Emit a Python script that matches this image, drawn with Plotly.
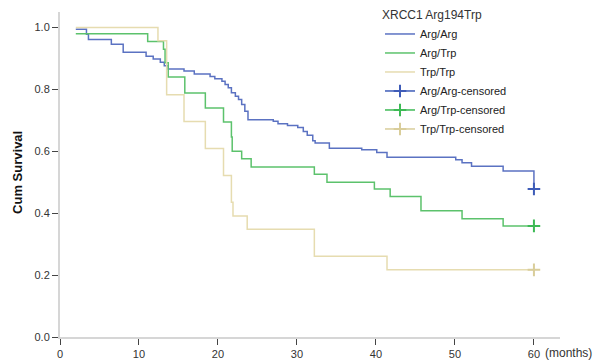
import plotly.graph_objects as go

# ---- data ----
start_time = 2.0
end_time = 60.0

arg_arg_times = [3.35, 3.6, 6.5, 8.0, 10.9, 11.8, 12.7, 13.2, 13.7, 15.7, 17.0, 19.0, 19.6,
                 20.5, 20.9, 21.3, 21.7, 22.2, 22.6, 23.0, 23.4, 23.8, 27.0, 27.6, 28.8,
                 30.1, 30.8, 31.3, 32.0, 32.3, 34.1, 38.2, 40.1, 41.4, 50.1, 50.9, 52.1,
                 56.1, 60.0]
arg_arg_surv = [0.978, 0.961, 0.946, 0.920, 0.907, 0.898, 0.888, 0.876, 0.866, 0.859, 0.850,
                0.842, 0.834, 0.826, 0.816, 0.805, 0.789, 0.778, 0.767, 0.751, 0.729, 0.702,
                0.697, 0.689, 0.683, 0.677, 0.664, 0.652, 0.634, 0.627, 0.610, 0.605, 0.596,
                0.581, 0.573, 0.563, 0.552, 0.536, 0.478]
arg_arg_start = 0.994

arg_trp_times = [11.1, 13.1, 13.3, 13.7, 15.8, 18.4, 20.7, 21.7, 21.8, 23.0, 24.2, 32.2,
                 33.8, 39.8, 41.8, 45.7, 50.9, 56.1]
arg_trp_surv = [0.955, 0.930, 0.886, 0.840, 0.788, 0.740, 0.695, 0.646, 0.600, 0.576, 0.549,
                0.526, 0.500, 0.478, 0.454, 0.408, 0.382, 0.359]
arg_trp_start = 0.980

trp_trp_times = [12.4, 13.5, 15.7, 18.4, 20.7, 21.7, 21.9, 23.7, 32.2, 41.4]
trp_trp_surv = [0.957, 0.783, 0.696, 0.609, 0.522, 0.435, 0.391, 0.348, 0.261, 0.217]
trp_trp_start = 1.0

censor_time = [60.0]
arg_arg_censor = [0.478]
arg_trp_censor = [0.359]
trp_trp_censor = [0.217]

names = ["Arg/Arg", "Arg/Trp", "Trp/Trp"]
line_colors = ["#5b72c2", "#5cc26c", "#e6dcb0"]
mark_colors = ["#3e5cb8", "#3dba55", "#d9cd9a"]

y_ticks = [0.0, 0.2, 0.4, 0.6, 0.8, 1.0]
x_ticks = [0, 10, 20, 30, 40, 50, 60]

font = "Liberation Sans, Arial, sans-serif"

fig = go.Figure()

series = [
    (arg_arg_start, arg_arg_times, arg_arg_surv),
    (arg_trp_start, arg_trp_times, arg_trp_surv),
    (trp_trp_start, trp_trp_times, trp_trp_surv),
]
for (s0, ts, ss), name, col in zip(series, names, line_colors):
    xs = [start_time] + ts + [end_time]
    ys = [s0] + ss + [ss[-1]]
    fig.add_trace(go.Scatter(x=xs, y=ys, mode="lines", line=dict(shape="hv", color=col, width=1.5),
                             name=name, hoverinfo="skip"))

for cs, name, col in zip([arg_arg_censor, arg_trp_censor, trp_trp_censor], names, mark_colors):
    fig.add_trace(go.Scatter(x=censor_time, y=cs, mode="lines+markers", name=name + "-censored",
                             line=dict(color=col, width=1.5),
                             marker=dict(symbol="cross-thin", size=9, color=col,
                                         line=dict(color=col, width=2))))

fig.add_annotation(text="<b>Cum Survival</b>", xref="paper", yref="paper", x=-0.084, y=0.505,
                   textangle=-90, showarrow=False, xanchor="center", yanchor="middle",
                   font=dict(family=font, size=13, color="#111"))

fig.add_annotation(text="(months)", xref="x", yref="y", x=60, y=0, xanchor="left",
                   yanchor="middle", xshift=9, yshift=-16, showarrow=False,
                   font=dict(family=font, size=12, color="#333"))

fig.update_layout(
    width=609, height=360,
    margin=dict(l=60, r=49, t=12, b=23, autoexpand=False),
    paper_bgcolor="white", plot_bgcolor="white",
    font=dict(family=font, size=11, color="#333"),
    showlegend=True,
    legend=dict(x=0.64, y=1.025, xanchor="left", yanchor="top",
                title=dict(text="XRCC1 Arg194Trp", font=dict(size=12, color="#333")),
                font=dict(size=11, color="#222"), bgcolor="rgba(0,0,0,0)",
                itemwidth=30, tracegroupgap=0),
    xaxis=dict(range=[0, 63.3], tickvals=x_ticks, ticks="outside", ticklen=6, tickwidth=1.3,
               tickcolor="#444", showline=True, linecolor="#d6d6d6", linewidth=2,
               showgrid=False, zeroline=False, automargin=False,
               tickfont=dict(size=11, color="#333")),
    yaxis=dict(range=[0, 1.05], tickvals=y_ticks, tickformat=".1f", ticks="outside", ticklen=6,
               tickwidth=1.3, tickcolor="#444", showline=True, linecolor="#d6d6d6", linewidth=2,
               showgrid=False, zeroline=False, automargin=False,
               tickfont=dict(size=11, color="#333")),
)

fig.write_html("out.html", config={"displayModeBar": False},
               post_script="document.body.style.margin='0';")
